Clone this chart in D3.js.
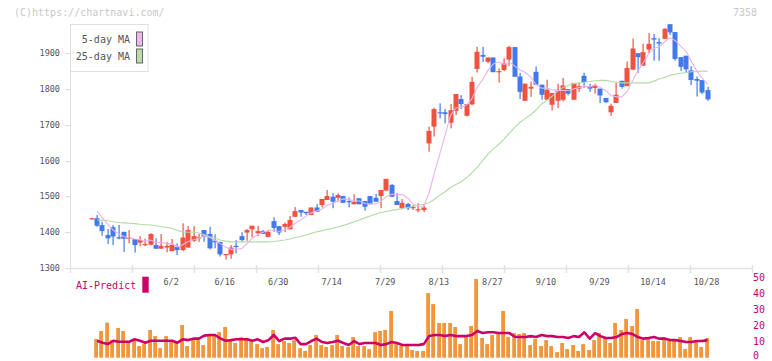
<!DOCTYPE html>
<html>
<head>
<meta charset="utf-8">
<script src="https://cdn.jsdelivr.net/npm/d3@7"></script>
<style>
  body { margin: 0; background: #fff; }
  svg text { font-family: "DejaVu Sans Mono", monospace; }
</style>
</head>
<body>
<div id="chart"></div>
<script>
// daily candles, oldest first (index 115 = 10/28)
var opens = [1439,1439,1420,1392,1414,1386,1401,1382,1381,1371,1364,1365,1364,1354,1357,1347,1359,1350,1357,1376,
  1384,1406,1395,1376,1373,1337,1338,1362,1389,1399,1408,1397,1403,1387,1431,1417,1415,1408,1443,1462,
  1457,1448,1469,1476,1490,1499,1496,1501,1487,1478,1495,1487,1501,1496,1501,1516,1532,1487,1467,1479,
  1467,1462,1462,1648,1695,1735,1735,1706,1739,1772,1725,1757,1856,1895,1876,1888,1847,1853,1882,1917,
  1835,1767,1801,1848,1812,1770,1756,1767,1770,1800,1770,1801,1837,1808,1803,1801,1775,1735,1761,1823,
  1808,1854,1900,1865,1910,1942,1931,1940,1981,1959,1889,1893,1852,1828,1825,1797]
var highs = [1439,1448,1429,1409,1420,1420,1401,1406,1381,1389,1382,1397,1383,1395,1373,1381,1369,1425,1417,1417,
  1395,1406,1415,1394,1373,1339,1364,1378,1400,1409,1418,1418,1406,1406,1442,1417,1427,1445,1470,1462,
  1457,1469,1479,1493,1518,1509,1509,1501,1497,1506,1495,1487,1501,1507,1518,1549,1535,1509,1493,1482,
  1476,1481,1479,1695,1748,1760,1744,1758,1786,1783,1758,1834,1918,1918,1888,1888,1858,1886,1921,1917,
  1845,1815,1821,1863,1812,1826,1789,1815,1831,1800,1817,1817,1845,1815,1815,1801,1775,1759,1817,1823,
  1877,1941,1900,1927,1956,1954,1942,1970,1981,1959,1889,1893,1864,1835,1825,1806]
var lows = [1439,1415,1390,1367,1364,1380,1345,1369,1343,1361,1361,1364,1353,1353,1344,1347,1336,1347,1357,1373,
  1373,1373,1352,1355,1332,1324,1326,1341,1373,1376,1386,1389,1395,1387,1401,1392,1400,1408,1443,1443,
  1448,1448,1457,1469,1490,1467,1485,1482,1469,1478,1478,1460,1478,1485,1467,1516,1499,1476,1464,1462,
  1462,1456,1456,1625,1667,1718,1704,1690,1727,1744,1723,1755,1846,1875,1872,1847,1818,1850,1865,1834,
  1772,1767,1778,1812,1770,1770,1740,1747,1765,1782,1770,1792,1803,1792,1787,1761,1761,1725,1761,1801,
  1808,1854,1845,1865,1900,1879,1879,1940,1951,1879,1850,1845,1811,1779,1786,1767]
var closes = [1439,1418,1403,1383,1388,1384,1382,1385,1364,1378,1367,1395,1354,1362,1362,1365,1350,1385,1406,1389,
  1386,1388,1355,1372,1338,1339,1357,1359,1378,1406,1418,1403,1395,1401,1412,1399,1423,1434,1459,1455,
  1453,1469,1457,1493,1501,1485,1504,1482,1484,1485,1478,1471,1478,1485,1518,1549,1499,1476,1482,1467,
  1471,1464,1469,1683,1744,1732,1730,1741,1786,1758,1758,1820,1904,1890,1888,1847,1850,1872,1917,1834,
  1792,1815,1806,1812,1784,1798,1789,1798,1810,1787,1817,1808,1819,1801,1810,1782,1763,1753,1784,1806,
  1859,1913,1889,1903,1926,1938,1927,1968,1958,1884,1862,1855,1825,1823,1790,1771]

var ma5 = [null,1458,1440,1422,1406,1395,1388,1384,1381,1379,1375,1378,1372,1371,1368,1368,1359,1365,1374,1379,
  1383,1391,1385,1378,1368,1358,1352,1353,1354,1368,1384,1393,1400,1405,1406,1402,1406,1414,1425,1434,
  1445,1454,1459,1465,1475,1481,1488,1493,1491,1488,1487,1480,1479,1479,1486,1500,1506,1505,1505,1495,
  1479,1472,1471,1511,1566,1618,1672,1726,1747,1749,1755,1773,1805,1826,1852,1870,1876,1869,1875,1864,
  1853,1846,1833,1812,1802,1803,1798,1796,1796,1796,1800,1804,1808,1806,1811,1804,1795,1782,1778,1778,
  1793,1823,1850,1874,1898,1914,1917,1932,1943,1935,1920,1905,1877,1850,1831,1813]
var ma25 = [null,1434,1433,1432,1429,1427,1426,1425,1424,1422,1421,1420,1418,1415,1413,1411,1405,1401,1400,1400,
  1398,1393,1387,1383,1378,1375,1373,1373,1373,1373,1373,1373,1373,1373,1374,1376,1378,1381,1385,1388,
  1392,1397,1401,1404,1408,1411,1415,1419,1424,1429,1434,1440,1445,1450,1455,1458,1461,1463,1466,1469,
  1472,1476,1478,1482,1492,1503,1513,1525,1533,1541,1552,1566,1582,1600,1618,1633,1645,1660,1677,1693,
  1707,1718,1728,1742,1758,1768,1780,1794,1804,1810,1815,1817,1819,1821,1823,1824,1824,1821,1819,1817,
  1817,1817,1817,1817,1817,1822,1828,1833,1838,1841,1844,1846,1848,1849,1850,1850]

// volume panel (relative bar heights) and AI-Predict line (right axis 0-50)
var volume = [0,11.7,16.7,21.9,11.1,18.6,16.7,10,11,7.3,8.5,17.3,13.5,6,13.5,11,9.2,20.4,7.3,11,
  11,7.9,14.8,14.8,16,19.2,11,9.2,12.9,12.3,10.4,8.5,6,6.7,17.3,8.5,10.4,9.2,11,6,
  4.2,7.9,14.2,7.9,6.7,7.9,14.2,7.3,6.7,12.9,7.3,7.3,5.4,16,16.7,17.3,29.2,8.5,7.3,7.3,
  4.8,4.2,4.2,40.4,33.5,21.7,21.7,21.7,19.2,8.5,12.9,19.8,49.2,12.3,8.5,14.2,14.8,29.2,12.9,15.4,
  14.8,15.4,7.9,11.7,7.3,11,7.3,3.5,9.2,5.4,7.9,4.2,8.5,4.8,11,15.4,12.3,9.2,21.7,17.3,
  24.2,19.8,30.4,11,11.7,10.4,10.4,12.9,10.4,11,12.9,5.4,12.9,10.4,6.7,12.3]
var aiPredict = [null,10.6,9.4,8.5,10.6,10,10,10,11.5,10.6,9.4,10.6,10.6,10.6,10.6,10.6,9.4,11.5,11,11.9,
  11.9,13.8,14.2,14.2,12.1,10.6,11,11.5,11.5,11.5,10.6,11.5,9.8,11,14.2,10.4,11.9,11.9,12.5,8.5,
  8.5,10.4,11.9,9.8,9.2,9.8,10.6,9.2,7.9,10.4,8.5,9.2,9.2,9.2,7.9,8.5,9.8,9.2,7.9,7.9,
  7.9,7.9,8.5,13.5,14.2,14.2,13.5,14.2,13.5,13.5,13.5,14.2,16.7,15.4,15.9,15.9,15.4,15.4,15.4,13.1,
  12.9,12.9,13.5,12.9,14.2,13.5,13.5,12.9,12.9,12.3,13.5,12.9,15.9,11.9,15.4,13.5,12.3,12.3,12.9,14.8,
  15.4,14.8,12.9,11.9,12.3,12.9,11.9,11.9,11.1,11,10.4,9.8,9.8,10.4,10.4,11]

var dateLabels = ['6/2','6/16','6/30','7/14','7/29','8/13','8/27','9/10','9/29','10/14','10/28']
var dateIndex = [15,25,35,45,55,65,75,85,95,105,115]
var priceTicks = [1300,1400,1500,1600,1700,1800,1900]
var aiTicks = [0,10,20,30,40,50]

var W = 772, H = 361
var upColor = '#ef5340', downColor = '#427aee'

var svg = d3.select('#chart').append('svg')
  .attr('width', W).attr('height', H)
  .style('display', 'block')

var x = d3.scaleLinear().domain([-4.07, 123.31]).range([70, 752])
var y = d3.scaleLinear().domain([1300, 1900]).range([268, 53.2])
var yv = d3.scaleLinear().domain([0, 50]).range([357.7, 277.7])

// header texts
svg.append('text').attr('x', 14).attr('y', 16)
  .attr('font-size', 10).attr('fill', '#c8c8c8')
  .text('(C)https://chartnavi.com/')
svg.append('text').attr('x', 757).attr('y', 16)
  .attr('text-anchor', 'end')
  .attr('font-size', 10).attr('fill', '#c8c8c8')
  .text('7358')

// price axis
svg.append('line')
  .attr('x1', 70.5).attr('x2', 70.5).attr('y1', 24).attr('y2', 268)
  .attr('stroke', '#e2e2e2')
priceTicks.forEach(function(p){
  svg.append('line')
    .attr('x1', 65).attr('x2', 70).attr('y1', Math.round(y(p)) + 0.5).attr('y2', Math.round(y(p)) + 0.5)
    .attr('stroke', '#dcdcdc')
  svg.append('text')
    .attr('x', 60).attr('y', y(p)).attr('dy', '0.35em')
    .attr('text-anchor', 'end')
    .attr('font-size', 8.5).attr('fill', '#555')
    .text(p)
})

// time axis
svg.append('line')
  .attr('x1', 70).attr('x2', 752).attr('y1', 268.5).attr('y2', 268.5)
  .attr('stroke', '#e2e2e2').attr('stroke-width', 1.5)
d3.range(12).forEach(function(k){
  var tx = Math.round(x(-4.07 + k * (127.38 / 11))) + 0.5
  svg.append('line')
    .attr('x1', tx).attr('x2', tx).attr('y1', 265).attr('y2', 273)
    .attr('stroke', '#e2e2e2').attr('stroke-width', 1.5)
})
dateLabels.forEach(function(t, i){
  svg.append('text')
    .attr('x', x(dateIndex[i]) - 1).attr('y', 282.5).attr('dy', '0.35em')
    .attr('text-anchor', 'middle')
    .attr('font-size', 8.5).attr('fill', '#555')
    .text(t)
})

// candles
var candles = svg.append('g')
closes.forEach(function(c, i){
  var o = opens[i]
  var col = c >= o ? upColor : downColor
  var cx = Math.round(x(i))
  candles.append('rect')
    .attr('x', cx - 0.5).attr('width', 1.2)
    .attr('y', y(highs[i])).attr('height', Math.max(1, y(lows[i]) - y(highs[i])))
    .attr('fill', col)
  var top = y(Math.max(o, c)), bot = y(Math.min(o, c))
  candles.append('rect')
    .attr('x', cx - 2.5).attr('width', 5)
    .attr('y', top).attr('height', Math.max(1.2, bot - top))
    .attr('fill', col)
})

// moving averages
var maLine = d3.line()
  .defined(function(d){ return d != null })
  .x(function(d, i){ return x(i) })
  .y(function(d){ return y(d) })
svg.append('path').datum(ma25)
  .attr('d', maLine).attr('fill', 'none')
  .attr('stroke', '#b3dba6').attr('stroke-width', 1.1)
svg.append('path').datum(ma5)
  .attr('d', maLine).attr('fill', 'none')
  .attr('stroke', '#e8b4ec').attr('stroke-width', 1.1)

// legend
var lg = svg.append('g')
lg.append('rect').attr('x', 70.5).attr('y', 24.5).attr('width', 77.5).attr('height', 47)
  .attr('fill', '#fff').attr('stroke', '#e0e0e0')
;[['5-day MA', '#eab8ea', 39], ['25-day MA', '#b8dcac', 56]].forEach(function(d){
  lg.append('text').attr('x', 130).attr('y', d[2]).attr('dy', '0.35em')
    .attr('text-anchor', 'end').attr('font-size', 10).attr('fill', '#555')
    .text(d[0])
  lg.append('rect').attr('x', 136.5).attr('y', d[2] - 7).attr('width', 6).attr('height', 14)
    .attr('fill', d[1]).attr('stroke', '#666')
})

// volume bars
svg.append('g').selectAll('rect')
  .data(volume)
  .join('rect')
  .attr('x', function(d, i){ return Math.round(x(i)) - 2.8 })
  .attr('width', 3.8)
  .attr('y', function(d){ return yv(d) })
  .attr('height', function(d){ return yv(0) - yv(d) })
  .attr('fill', '#f2963e')

// AI-Predict line
svg.append('path').datum(aiPredict)
  .attr('d', d3.line()
    .defined(function(d){ return d != null })
    .x(function(d, i){ return x(i) })
    .y(function(d){ return yv(d) }))
  .attr('fill', 'none')
  .attr('stroke', '#cc0066').attr('stroke-width', 2.6)
  .attr('stroke-linejoin', 'round')

// AI axis labels (right), bottom one kept inside the frame
aiTicks.forEach(function(t){
  svg.append('text')
    .attr('x', 753).attr('y', Math.min(yv(t), 355.5)).attr('dy', '0.35em')
    .attr('font-size', 10).attr('fill', '#cc0066')
    .text(t)
})

// AI legend
svg.append('text').attr('x', 76).attr('y', 285.7).attr('dy', '0.35em')
  .attr('font-size', 10).attr('fill', '#cc0066')
  .text('AI-Predict')
svg.append('rect').attr('x', 142.3).attr('y', 276.7).attr('width', 6.4).attr('height', 16)
  .attr('fill', '#cc0066')
</script>
</body>
</html>
